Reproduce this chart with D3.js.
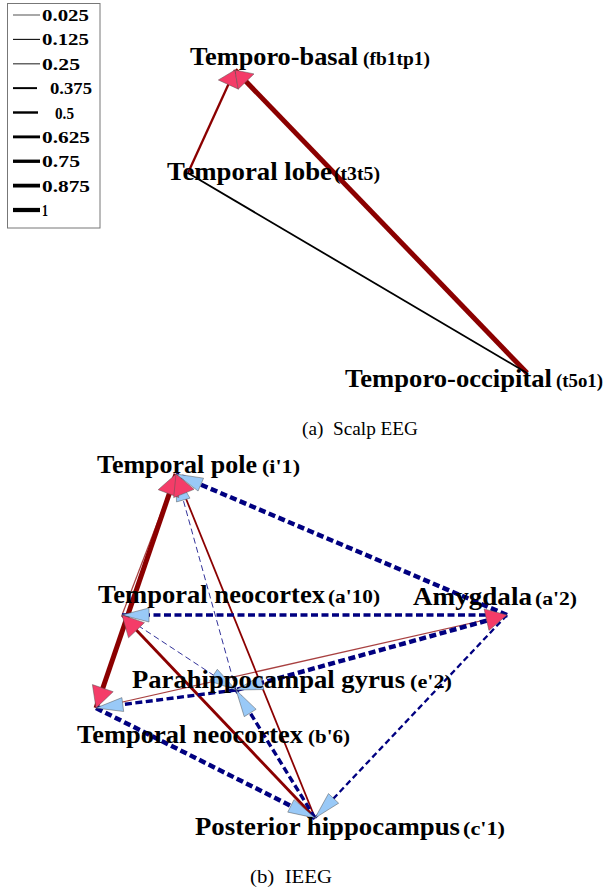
<!DOCTYPE html>
<html><head><meta charset="utf-8">
<script src="https://cdn.jsdelivr.net/npm/d3@7"></script>
<style>body{margin:0;background:#fff}svg{display:block}
text{font-family:"Liberation Serif","Times New Roman",Times,serif}</style>
</head><body>
<svg id="c" width="605" height="895"></svg>
<script>
// ---------------- DATA ----------------
const legendWeights = [0.025, 0.125, 0.25, 0.375, 0.5, 0.625, 0.75, 0.875, 1];
const legendLabels = ["0.025", "0.125", "0.25", "0.375", "0.5", "0.625", "0.75", "0.875", "1"];

const scalpNames = ["Temporo-basal", "Temporal lobe", "Temporo-occipital"];
const scalpCodes = ["(fb1tp1)", "(t3t5)", "(t5o1)"];
const scalpSource = [1, 2, 1];
const scalpTarget = [0, 0, 2];
const scalpWeight = [0.375, 1, 0.25];
const scalpType = ["red", "red", "black"];

const ieegNames = ["Temporal pole", "Temporal neocortex", "Amygdala", "Parahippocampal gyrus", "Temporal neocortex", "Posterior hippocampus"];
const ieegCodes = ["(i'1)", "(a'10)", "(a'2)", "(e'2)", "(b'6)", "(c'1)"];
const ieegSource = [0, 1, 5, 5, 4, 2, 2, 2, 3, 4, 2, 5, 3, 1];
const ieegTarget = [4, 0, 0, 1, 2, 0, 1, 3, 4, 5, 5, 3, 0, 3];
const ieegWeight = [1, 0.125, 0.25, 0.5, 0.125, 0.875, 0.625, 0.875, 0.625, 0.875, 0.375, 0.625, 0.025, 0.025];
const ieegType = ["red", "red", "red", "red", "red", "blue", "blue", "blue", "blue", "blue", "blue", "blue", "blue", "blue"];

const captions = ["(a)  Scalp EEG", "(b)  IEEG"];

// ---------------- LAYOUT ----------------
const W = 605, H = 895;
const scalpLayoutX = [0.3884, 0.3107, 0.8711];
const scalpLayoutY = [0.1667, 0.4119, 0.8881];
const ieegLayoutX = [0.2909, 0.2017, 0.8380, 0.3901, 0.1587, 0.5207];
const ieegLayoutY = [0.0810, 0.4167, 0.4167, 0.5952, 0.6381, 0.9000];
// label placement: [dx, dy, mainWidth, gap, codeWidth]
const scalpLabelPlace = [[-45, -5, 168, 5, 67], [-21, 7, 165, 2, 46], [-182, 14, 207, 4, 47]];
const ieegLabelPlace = [[-79, -1, 160, 5, 38], [-24, -12, 227, 3, 52], [-94, -10, 119, 3, 42],
                        [-104, -2, 273, 5, 42], [-19, 35, 226, 5, 42], [-120, 17, 265, 3, 42]];

const svg = d3.select("#c");
const widthScale = d3.scaleLinear().domain([0, 1]).range([0.7, 5]);
const colors = {red: "#8b0000", black: "#000", blue: "#000080", pink: "#f43c68", lightblue: "#99c9f7"};

const scalpX = d3.scaleLinear().domain([0, 1]).range([0, W]);
const scalpY = d3.scaleLinear().domain([0, 1]).range([0, 420]);
const ieegX = d3.scaleLinear().domain([0, 1]).range([0, W]);
const ieegY = d3.scaleLinear().domain([0, 1]).range([440, 860]);

function arrowPath(x1, y1, x2, y2, L, hw) {
  const dx = x2 - x1, dy = y2 - y1, d = Math.hypot(dx, dy);
  const ux = dx / d, uy = dy / d;
  const bx = x2 - ux * L, by = y2 - uy * L;
  const px = -uy * hw, py = ux * hw;
  return `M${x2},${y2}L${bx + px},${by + py}L${bx - px},${by - py}Z`;
}

function drawNetwork(g, names, codes, lx, ly, sx, sy, src, tgt, wts, types, place, arrowSize) {
  const nodes = names.map((n, i) => ({name: n, code: codes[i], x: sx(lx[i]), y: sy(ly[i]), place: place[i]}));
  const edges = src.map((s, i) => ({s: nodes[s], t: nodes[tgt[i]], w: wts[i], type: types[i]}));
  const eg = g.append("g");
  eg.selectAll("line").data(edges).join("line")
    .attr("x1", d => d.s.x).attr("y1", d => d.s.y)
    .attr("x2", d => d.t.x).attr("y2", d => d.t.y)
    .attr("stroke", d => colors[d.type])
    .attr("stroke-width", d => widthScale(d.w))
    .attr("stroke-opacity", d => d.type === "red" && d.w < 0.2 ? 0.75 : 1)
    .attr("stroke-dasharray", d => d.type === "blue" ? (d.w > 0.5 ? "7,3.5" : "6,3.5") : null);
  const arrowEdges = edges.filter(e => e.type !== "black")
    .sort((a, b) => (a.type === "blue" ? 0 : 1) - (b.type === "blue" ? 0 : 1));
  const ag = g.append("g");
  ag.selectAll("path").data(arrowEdges).join("path")
    .attr("d", d => d.type === "red"
      ? arrowPath(d.s.x, d.s.y, d.t.x, d.t.y, arrowSize.red[0], arrowSize.red[1])
      : arrowPath(d.s.x, d.s.y, d.t.x, d.t.y, arrowSize.blue[0], arrowSize.blue[1]))
    .attr("fill", d => d.type === "red" ? colors.pink : colors.lightblue)
    .attr("stroke", "#555").attr("stroke-width", 0.5);
  const lg = g.append("g").attr("font-weight", "bold");
  nodes.forEach(n => {
    const [dx, dy, mw, gap, cw] = n.place;
    lg.append("text").attr("x", n.x + dx).attr("y", n.y + dy)
      .attr("font-size", 25).attr("textLength", mw).attr("lengthAdjust", "spacingAndGlyphs")
      .attr("fill", "#000").text(n.name);
    lg.append("text").attr("x", n.x + dx + mw + gap).attr("y", n.y + dy)
      .attr("font-size", 19).attr("textLength", cw).attr("lengthAdjust", "spacingAndGlyphs")
      .attr("fill", "#000").text(n.code);
  });
}

drawNetwork(svg.append("g"), scalpNames, scalpCodes, scalpLayoutX, scalpLayoutY, scalpX, scalpY,
  scalpSource, scalpTarget, scalpWeight, scalpType, scalpLabelPlace, {red: [16, 11], blue: [24, 7]});
drawNetwork(svg.append("g"), ieegNames, ieegCodes, ieegLayoutX, ieegLayoutY, ieegX, ieegY,
  ieegSource, ieegTarget, ieegWeight, ieegType, ieegLabelPlace, {red: [21, 11], blue: [27, 7]});

// Legend
const leg = svg.append("g");
leg.append("rect").attr("x", 7.5).attr("y", 3.5).attr("width", 92.5).attr("height", 224.5)
  .attr("fill", "#fff").attr("stroke", "#777").attr("stroke-width", 1);
const legY = d3.scalePoint().domain(legendLabels).range([15, 210]);
const legLabelShift = [0, 0, 0, 8, 13, 0, 0, 0, 0];
const legLineEnd = [40, 40, 40, 37, 38, 40, 40, 40, 40];
const legLabelW = [47, 47, 38, 42, 19, 48, 38, 48, 6];
legendLabels.forEach((lab, i) => {
  const y = legY(lab);
  leg.append("line").attr("x1", 13).attr("x2", legLineEnd[i]).attr("y1", y).attr("y2", y)
    .attr("stroke", i === 2 ? "#666" : "#000").attr("stroke-width", widthScale(legendWeights[i]) * 0.85);
  leg.append("text").attr("x", 42 + legLabelShift[i]).attr("y", y + 6)
    .attr("font-weight", "bold")
    .attr("font-size", 16.5).attr("textLength", legLabelW[i]).attr("lengthAdjust", "spacingAndGlyphs")
    .text(lab);
});

// Captions
const capX = [302, 250], capY = [435, 883], capW = [116, 82];
captions.forEach((c, i) => {
  svg.append("text").attr("x", capX[i]).attr("y", capY[i])
    .attr("font-size", 18.5)
    .style("white-space", "pre")
    .attr("textLength", capW[i]).attr("lengthAdjust", "spacingAndGlyphs").text(c);
});
</script>
</body></html>
